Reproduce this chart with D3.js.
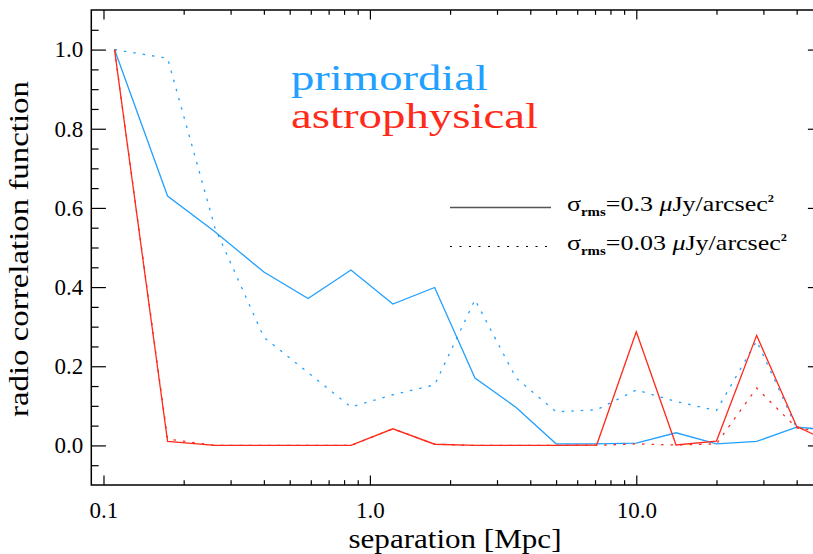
<!DOCTYPE html>
<html>
<head>
<meta charset="utf-8">
<script src="https://cdn.jsdelivr.net/npm/d3@7"></script>
<style>
  body { margin: 0; background: #fff; }
  text { font-family: "Liberation Serif", "DejaVu Serif", serif; }
</style>
</head>
<body>
<div id="chart-area"></div>
<script>
// data
const separation = [0.11, 0.174, 0.262, 0.40, 0.586, 0.849, 1.22, 1.75, 2.48, 3.54, 5.0, 7.1, 10.0, 14.1, 20.0, 28.3, 40.0, 56.6]
const primordial03 = [1.0, 0.630, 0.540, 0.438, 0.371, 0.443, 0.357, 0.399, 0.170, 0.096, 0.004, 0.004, 0.006, 0.032, 0.004, 0.010, 0.046, 0.038]
const primordial003 = [1.0, 0.978, 0.550, 0.273, 0.184, 0.097, 0.128, 0.153, 0.368, 0.170, 0.085, 0.090, 0.140, 0.111, 0.088, 0.264, 0.044, 0.040]
const astro03 = [1.0, 0.010, 0.0, 0.0, 0.0, 0.0, 0.042, 0.003, 0.0, 0.0, 0.0, 0.001, 0.287, 0.001, 0.011, 0.278, 0.048, 0.0]
const astro003 = [1.0, 0.016, 0.0, 0.0, 0.0, 0.0, 0.042, 0.003, 0.0, 0.0, 0.0, 0.0, 0.004, 0.001, 0.004, 0.145, 0.044, 0.030]

// ticks
const xMajor = [0.1, 1, 10]
const xMinor = [0.2, 0.3, 0.4, 0.5, 0.6, 0.7, 0.8, 0.9, 2, 3, 4, 5, 6, 7, 8, 9, 20, 30, 40, 50]
const yMajor = [0.0, 0.2, 0.4, 0.6, 0.8, 1.0]
const yMinor = [-0.05, 0.05, 0.1, 0.15, 0.25, 0.3, 0.35, 0.45, 0.5, 0.55, 0.65, 0.7, 0.75, 0.85, 0.9, 0.95, 1.05]

const BLUE = "#22a0ff"
const RED = "#ff2a1a"

// margins
const MARGIN = { LEFT: 91.3, RIGHT: 0, TOP: 10, BOTTOM: 69 }
const WIDTH = 731.2
const HEIGHT = 554 - MARGIN.TOP - MARGIN.BOTTOM

const svg = d3.select("#chart-area").append("svg")
  .attr("width", 813)
  .attr("height", 554)

const g = svg.append("g")
  .attr("transform", `translate(${MARGIN.LEFT}, ${MARGIN.TOP})`)

// scales
const x = d3.scaleLog()
  .domain([0.09, 50])
  .range([0, WIDTH])

const y = d3.scaleLinear()
  .domain([-0.1, 1.1])
  .range([HEIGHT, 0])

svg.append("defs").append("clipPath")
  .attr("id", "clip")
  .append("rect")
  .attr("width", WIDTH)
  .attr("height", HEIGHT)

// axes, ticks pointing inwards
const XMAJ = 9.5, XMIN = 4.8, YMAJ = 14.6, YMIN = 7.3

g.append("g")
  .attr("transform", `translate(0, ${HEIGHT})`)
  .call(d3.axisBottom(x).tickValues(xMajor).tickSize(-XMAJ).tickSizeOuter(0).tickPadding(17)
    .tickFormat(d3.format(".1f")))
g.append("g")
  .attr("transform", `translate(0, ${HEIGHT})`)
  .call(d3.axisBottom(x).tickValues(xMinor).tickSize(-XMIN).tickSizeOuter(0).tickFormat(""))
g.append("g")
  .call(d3.axisTop(x).tickValues(xMajor).tickSize(-XMAJ).tickSizeOuter(0).tickFormat(""))
g.append("g")
  .call(d3.axisTop(x).tickValues(xMinor).tickSize(-XMIN).tickSizeOuter(0).tickFormat(""))

g.append("g")
  .call(d3.axisLeft(y).tickValues(yMajor).tickSize(-YMAJ).tickSizeOuter(0).tickPadding(8)
    .tickFormat(d3.format(".1f")))
g.append("g")
  .call(d3.axisLeft(y).tickValues(yMinor).tickSize(-YMIN).tickSizeOuter(0).tickFormat(""))
g.append("g")
  .attr("transform", `translate(${WIDTH}, 0)`)
  .call(d3.axisRight(y).tickValues(yMajor).tickSize(-YMAJ).tickSizeOuter(0).tickFormat(""))
g.append("g")
  .attr("transform", `translate(${WIDTH}, 0)`)
  .call(d3.axisRight(y).tickValues(yMinor).tickSize(-YMIN).tickSizeOuter(0).tickFormat(""))

g.selectAll(".tick line").attr("stroke", "#000").attr("stroke-width", 1.2)
g.selectAll(".domain").remove()
g.selectAll(".tick text")
  .attr("font-family", "Liberation Serif")
  .attr("font-size", "23px")
  .attr("fill", "#000")

// frame
g.append("rect")
  .attr("width", WIDTH)
  .attr("height", HEIGHT)
  .attr("fill", "none")
  .attr("stroke", "#000")
  .attr("stroke-width", 1.5)

// labels
g.append("text")
  .attr("x", 455 - MARGIN.LEFT)
  .attr("y", HEIGHT + 63)
  .attr("font-size", "27px")
  .attr("text-anchor", "middle")
  .attr("textLength", 213)
  .attr("lengthAdjust", "spacingAndGlyphs")
  .text("separation [Mpc]")

svg.append("text")
  .attr("transform", "translate(28, 249) rotate(-90)")
  .attr("font-size", "27px")
  .attr("text-anchor", "middle")
  .attr("textLength", 336)
  .attr("lengthAdjust", "spacingAndGlyphs")
  .text("radio correlation function")

// lines
const line = d3.line()
  .x((d, i) => x(separation[i]))
  .y(d => y(d))

const series = [
  { values: primordial003, color: BLUE, dash: "2.5,7" },
  { values: primordial03, color: BLUE, dash: null },
  { values: astro003, color: RED, dash: "2.5,7" },
  { values: astro03, color: RED, dash: null }
]

const lines = g.append("g").attr("clip-path", "url(#clip)")
series.forEach(s => {
  lines.append("path")
    .attr("d", line(s.values))
    .attr("fill", "none")
    .attr("stroke", s.color)
    .attr("stroke-width", 1.3)
    .attr("stroke-dasharray", s.dash)
})

// big titles
svg.append("text")
  .attr("x", 291).attr("y", 90)
  .attr("font-size", "36px")
  .attr("fill", BLUE)
  .attr("textLength", 197)
  .attr("lengthAdjust", "spacingAndGlyphs")
  .text("primordial")
svg.append("text")
  .attr("x", 291).attr("y", 128)
  .attr("font-size", "36px")
  .attr("fill", RED)
  .attr("textLength", 247)
  .attr("lengthAdjust", "spacingAndGlyphs")
  .text("astrophysical")

// legend
const legendItems = [
  { label: "0.3", dash: null, color: "#555", y: 207.5, len: 207 },
  { label: "0.03", dash: "2,7.5", color: "#000", y: 246.5, len: 220 }
]
legendItems.forEach(d => {
  svg.append("line")
    .attr("x1", 450).attr("x2", 551)
    .attr("y1", d.y).attr("y2", d.y)
    .attr("stroke", d.color)
    .attr("stroke-width", d.dash ? 1.2 : 1.6)
    .attr("stroke-dasharray", d.dash)
  const t = svg.append("text")
    .attr("x", 567)
    .attr("y", d.y + 3)
    .attr("font-size", "21px")
    .attr("fill", "#000")
    .attr("textLength", d.len)
    .attr("lengthAdjust", "spacingAndGlyphs")
  t.append("tspan").text("σ")
  t.append("tspan").attr("font-size", "12px").attr("font-weight", "bold").attr("dy", 5).text("rms")
  t.append("tspan").attr("dy", -5).text("=" + d.label + "  ")
  t.append("tspan").attr("font-style", "italic").text("μ")
  t.append("tspan").text("Jy/arcsec")
  t.append("tspan").attr("font-size", "10px").attr("font-weight", "bold").attr("dy", -9).text("2")
})
</script>
</body>
</html>
